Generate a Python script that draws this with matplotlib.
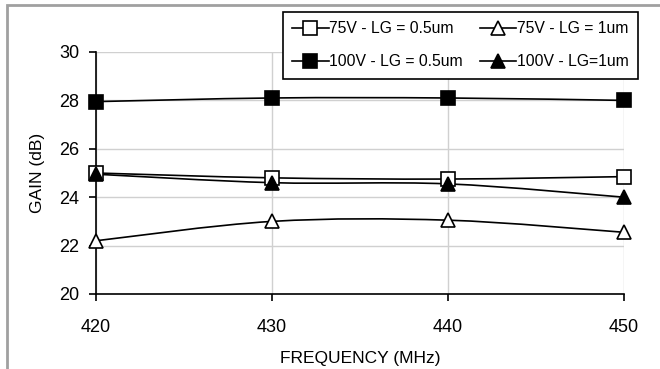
import matplotlib
matplotlib.use("Agg")
import matplotlib.pyplot as plt
from matplotlib.path import Path
from matplotlib.patches import PathPatch, Rectangle
from matplotlib.lines import Line2D
import numpy as np

plt.rcParams['font.family'] = ['Liberation Sans', 'DejaVu Sans']

freq = [420, 430, 440, 450]
gain_75_05 = [25.0, 24.8, 24.75, 24.85]
gain_75_1 = [22.2, 23.0, 23.05, 22.55]
gain_100_05 = [27.95, 28.1, 28.1, 28.0]
gain_100_1 = [24.95, 24.6, 24.55, 24.0]
labels = ["75V - LG = 0.5um", "75V - LG = 1um", "100V - LG = 0.5um", "100V - LG=1um"]
yticks = [20, 22, 24, 26, 28, 30]

W, H = 660, 369
fig = plt.figure(figsize=(W / 100, H / 100), dpi=100)
ax = fig.add_axes([96 / W, 1 - 294 / H, (624 - 96) / W, (294 - 52) / H])

def smooth_path(x, y):
    x = np.asarray(x, float); y = np.asarray(y, float)
    n = len(x)
    verts = [(x[0], y[0])]
    codes = [Path.MOVETO]
    for i in range(n - 1):
        i0 = max(i - 1, 0); i3 = min(i + 2, n - 1)
        c1 = (x[i] + (x[i + 1] - x[i0]) / 6, y[i] + (y[i + 1] - y[i0]) / 6)
        c2 = (x[i + 1] - (x[i3] - x[i]) / 6, y[i + 1] - (y[i3] - y[i]) / 6)
        verts += [c1, c2, (x[i + 1], y[i + 1])]
        codes += [Path.CURVE4] * 3
    return Path(verts, codes)

series = [
    (gain_75_05, 's', 'white', 10),
    (gain_75_1, '^', 'white', 10),
    (gain_100_05, 's', 'black', 10),
    (gain_100_1, '^', 'black', 10),
]
for vals, mk, fc, ms in series:
    ax.add_patch(PathPatch(smooth_path(freq, vals), fill=False, lw=1.2,
                           edgecolor='black', zorder=3, clip_on=False))
    ax.plot(freq, vals, linestyle='none', marker=mk, markersize=ms,
            markerfacecolor=fc, markeredgecolor='black', markeredgewidth=1.2,
            zorder=4, clip_on=False)

ax.set_xlim(420, 450)
ax.set_ylim(20, 30)
ax.set_xticks(freq)
ax.set_yticks(yticks)
ax.grid(True, color='#d0d0d0', lw=1)
ax.set_axisbelow(True)
for s in ['top', 'right']:
    ax.spines[s].set_visible(False)
for s in ['left', 'bottom']:
    ax.spines[s].set_linewidth(1.2)
ax.tick_params(direction='out', length=5, width=1.2, labelsize=13, pad=7)
ax.tick_params(axis='x', pad=13)
ax.set_xlabel("FREQUENCY (MHz)", fontsize=12.5, labelpad=11)
ax.set_ylabel("GAIN (dB)", fontsize=12.5, labelpad=10)

handles = [Line2D([], [], color='black', lw=1.2, marker=mk, markersize=ms,
                  markerfacecolor=fc, markeredgecolor='black', markeredgewidth=1.2)
           for vals, mk, fc, ms in series]
order = [0, 2, 1, 3]
leg = fig.legend([handles[i] for i in order], [labels[i] for i in order], ncol=2,
                 loc='upper left',
                 bbox_to_anchor=(283 / W, 1 - 83 / H, (638 - 283) / W, (83 - 12) / H),
                 mode='expand', fontsize=11.3,
                 frameon=True, fancybox=False, edgecolor='black', framealpha=1,
                 handlelength=2.3, handletextpad=0.05, columnspacing=0.4,
                 borderaxespad=0, labelspacing=1.15, borderpad=0.6)
leg.get_frame().set_linewidth(1.2)
leg.set_zorder(10)

fig.patches.append(Rectangle((7 / W, -0.1), 1.2, 1 - 5 / H + 0.1, transform=fig.transFigure,
                             fill=False, edgecolor='#a0a0a0', lw=2))

fig.savefig("out.png", dpi=100)
